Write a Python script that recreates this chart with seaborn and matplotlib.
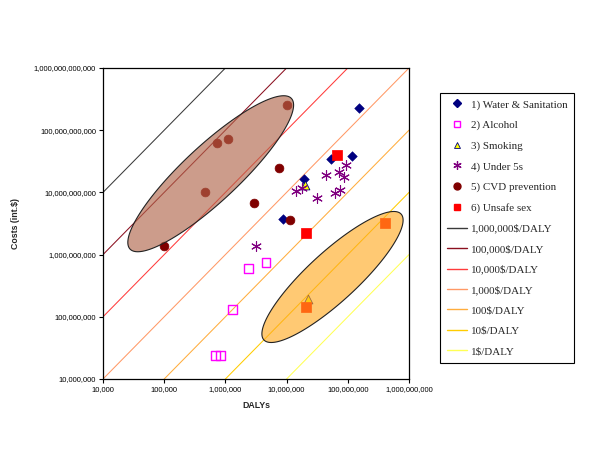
import numpy as np
import pandas as pd
import matplotlib
matplotlib.use("Agg")
import matplotlib.pyplot as plt
import seaborn as sns
from matplotlib.patches import Polygon
from matplotlib.lines import Line2D
from matplotlib.ticker import FixedLocator, FuncFormatter, NullLocator

# ---------------- data ----------------
water_x = [1.5e8, 5.4e7, 1.17e8, 1.9e7, 8.7e6]
water_y = [2.3e11, 3.4e10, 3.85e10, 1.65e10, 3.7e9]

alcohol_x = [2.4e6, 4.6e6, 1.3e6, 6.8e5, 8.3e5]
alcohol_y = [5.9e8, 7.4e8, 1.3e8, 2.4e7, 2.4e7]

smoking_x = [2.0e7, 2.2e7]
smoking_y = [1.3e10, 1.95e8]

under5_x = [1.45e7, 1.8e7, 3.1e7, 4.4e7, 7.2e7, 8.7e7, 9.5e7, 6.2e7, 7.4e7, 3.2e6]
under5_y = [1.05e10, 1.17e10, 8.2e9, 1.9e10, 2.1e10, 1.75e10, 2.75e10, 9.7e9, 1.1e10, 1.35e9]

cvd_x = [1.0e7, 7.2e5, 1.1e6, 7.6e6, 4.7e5, 2.95e6, 1.15e7, 1.0e5]
cvd_y = [2.55e11, 6.3e10, 7.1e10, 2.5e10, 1.0e10, 6.8e9, 3.6e9, 1.38e9]

unsafe_x = [6.6e7, 2.1e7, 2.1e7, 4.1e8]
unsafe_y = [4.0e10, 2.2e9, 1.45e8, 3.2e9]

series_names = ["1) Water & Sanitation", "2) Alcohol", "3) Smoking",
                "4) Under 5s", "5) CVD prevention", "6) Unsafe sex"]

cost_per_daly = [1e6, 1e5, 1e4, 1e3, 1e2, 1e1, 1e0]
line_labels = ["1,000,000$/DALY", "100,000$/DALY", "10,000$/DALY",
               "1,000$/DALY", "100$/DALY", "10$/DALY", "1$/DALY"]

x_ticks = [1e4, 1e5, 1e6, 1e7, 1e8, 1e9]
y_ticks = [1e7, 1e8, 1e9, 1e10, 1e11, 1e12]

# ellipses (log10 centre x, log10 centre y, semi-major, semi-minor (decades), angle deg)
ellipse_cvd = (5.76, 10.30, 1.79, 0.45, 42.5)
ellipse_cheap = (7.75, 8.64, 1.51, 0.40, 42.0)

# ---------------- style ----------------
sns.set_style("white")
plt.rcParams["font.family"] = ["Liberation Sans", "DejaVu Sans"]

fig = plt.figure(figsize=(6.0, 4.5), dpi=100)
ax = fig.add_axes([103/600, 1-379/450, 306/600, 311/450])

line_colors = ["#3a3a3a", "#8B1020", "#FF3B3B", "#FF9966", "#FFAD3D", "#FFCC00", "#FFFF55"]

xs = [1e4, 1e9]
for k, lab, col in zip(cost_per_daly, line_labels, line_colors):
    df_line = pd.DataFrame({"x": xs, "y": [k * v for v in xs]})
    sns.lineplot(data=df_line, x="x", y="y", ax=ax, color=col, lw=0.75, zorder=1)

ax.set_xscale("log")
ax.set_yscale("log")

marker_specs = [
    (water_x, water_y, dict(marker="D", s=24, color="#000080", edgecolor="#000080")),
    (alcohol_x, alcohol_y, dict(marker="s", s=40, facecolor="none", edgecolor="#FF00FF", linewidth=1.0)),
    (smoking_x, smoking_y, dict(marker="^", s=40, color="#FFFF00", edgecolor="#000080", linewidth=0.6)),
    (under5_x, under5_y, dict(marker=(6, 2, 0), s=50, color="#800080", linewidth=0.8)),
    (cvd_x, cvd_y, dict(marker="o", s=40, color="#800000", edgecolor="#800000")),
    (unsafe_x, unsafe_y, dict(marker="s", s=42, color="#FF0000", edgecolor="#FF0000")),
]
for (sx, sy, kw), name in zip(marker_specs, series_names):
    d = pd.DataFrame({"x": sx, "y": sy})
    kw = dict(kw)
    if kw.get("facecolor") == "none":
        ax.scatter(d["x"], d["y"], marker=kw["marker"], s=kw["s"], facecolors="none",
                   edgecolors=kw["edgecolor"], linewidths=kw["linewidth"], zorder=3)
    else:
        sns.scatterplot(data=d, x="x", y="y", ax=ax, legend=False, zorder=3, **kw)

def draw_ellipse(spec, face, alpha):
    cx, cy, a, b, ang = spec
    t = np.linspace(0, 2*np.pi, 300)
    th = np.deg2rad(ang)
    lx = cx + a*np.cos(t)*np.cos(th) - b*np.sin(t)*np.sin(th)
    ly = cy + a*np.cos(t)*np.sin(th) + b*np.sin(t)*np.cos(th)
    pts = np.column_stack([10**lx, 10**ly])
    rgb = matplotlib.colors.to_rgb(face)
    poly = Polygon(pts, closed=True, facecolor=(*rgb, alpha), edgecolor="#222222",
                   linewidth=0.8, zorder=4)
    ax.add_patch(poly)

draw_ellipse(ellipse_cvd, "#B0654A", 0.64)
draw_ellipse(ellipse_cheap, "#FFA81E", 0.62)

ax.set_xlim(1e4, 1e9)
ax.set_ylim(1e7, 1e12)
ax.xaxis.set_major_locator(FixedLocator(x_ticks))
ax.yaxis.set_major_locator(FixedLocator(y_ticks))
ax.xaxis.set_minor_locator(NullLocator())
ax.yaxis.set_minor_locator(NullLocator())
fmt = FuncFormatter(lambda v, p: f"{int(round(v)):,}")
ax.xaxis.set_major_formatter(fmt)
ax.yaxis.set_major_formatter(fmt)
ax.tick_params(axis="both", which="major", direction="out", length=3, width=0.8,
               labelsize=5.5, colors="black", pad=2, bottom=True, left=True)
for sp in ax.spines.values():
    sp.set_color("black")
    sp.set_linewidth(0.9)
    sp.set_visible(True)

ax.set_xlabel("DALYs", fontsize=6.3, fontweight="bold", labelpad=6)
ax.set_ylabel("Costs (int.$)", fontsize=6.3, fontweight="bold", labelpad=10)

# legend
handles = [
    Line2D([], [], ls="none", marker="D", ms=4, color="#000080"),
    Line2D([], [], ls="none", marker="s", ms=5, mfc="none", mec="#FF00FF", mew=1.0),
    Line2D([], [], ls="none", marker="^", ms=5, mfc="#FFFF00", mec="#000080", mew=0.6),
    Line2D([], [], ls="none", marker=(6, 2, 0), ms=6, color="#800080", mew=0.9),
    Line2D([], [], ls="none", marker="o", ms=5, color="#800000"),
    Line2D([], [], ls="none", marker="s", ms=5, color="#FF0000"),
]
handles += [Line2D([], [], color=c, lw=1.0) for c in line_colors]
labels = series_names + line_labels
leg = fig.legend(handles, labels, loc="upper left", bbox_to_anchor=(440/600, 1-93/450),
                 prop={"family": "Liberation Serif", "size": 7.9}, frameon=True,
                 fancybox=False, shadow=False, edgecolor="black", framealpha=1,
                 labelspacing=0.98, handlelength=1.9, handletextpad=0.3,
                 borderpad=0.6, borderaxespad=0)
leg.get_frame().set_linewidth(0.8)

fig.savefig("out.png", dpi=100)
